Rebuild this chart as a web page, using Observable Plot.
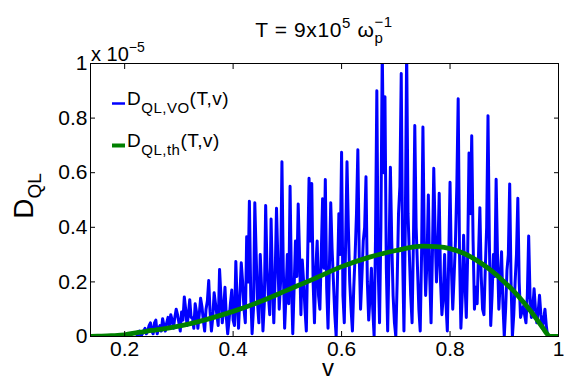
<!DOCTYPE html>
<html><head><meta charset="utf-8">
<script src="https://cdn.jsdelivr.net/npm/d3@7"></script>
<script src="https://cdn.jsdelivr.net/npm/@observablehq/plot@0.6"></script>
<style>body{margin:0;background:#fff} svg{display:block}</style>
</head><body><div id="chart"></div>
<script>
// Velocity grid of the noisy (VO) series: first sample and spacing
const vStart = 0.2225, vStep = 0.0025;
// D_QL,VO(T,v) in units of 1e-5 (one row = 0.05 in v)
const dVO = [
  0,
  0.01,0.02,0.0,0.01,0.02,0.03,0.01,0.02,0.04,0.05,0.02,0.01,0.05,0.06,0.01,0.03,0.04,0.02,0.065,0.04,
  0.02,0.05,0.07,0.04,0.08,0.06,0.03,0.07,0.10,0.08,0.05,0.02,0.09,0.06,0.145,0.10,0.04,0.08,0.135,0.07,
  0.07,0.03,0.12,0.09,0.03,0.08,0.14,0.11,0.06,0.02,0.10,0.13,0.205,0.09,0.02,0.07,0.16,0.12,0.08,0.04,
  0.245,0.15,0.05,0.10,0.18,0.07,0.01,0.06,0.12,0.17,0.06,0.04,0.275,0.12,0.03,0.15,0.27,0.20,0.10,0.05,
  0.365,0.20,0.495,0.15,0.01,0.10,0.49,0.30,0.12,0.05,0.30,0.18,0.02,0.12,0.48,0.25,0.15,0.08,0.43,0.20,
  0.05,0.22,0.47,0.28,0.10,0.20,0.64,0.25,0.03,0.15,0.30,0.12,0.55,0.20,0.01,0.18,0.35,0.22,0.485,0.30,
  0.08,0.28,0.20,0.10,0.02,0.30,0.58,0.35,0.56,0.20,0.05,0.25,0.35,0.15,0.10,0.30,0.505,0.25,0.575,0.18,
  0.03,0.25,0.49,0.32,0.20,0.08,0.0,0.22,0.45,0.30,0.675,0.15,0.05,0.35,0.64,0.40,0.20,0.10,0.02,0.18,
  0.30,0.45,0.684,0.30,0.10,0.22,0.35,0.40,0.585,0.20,0.06,0.15,0.25,0.10,0.0,0.35,0.90,0.25,0.05,0.40,
  1.05,0.60,0.878,0.25,0.02,0.30,0.62,0.35,0.15,0.05,0.0,0.20,0.45,0.55,0.963,0.30,0.02,0.40,1.05,0.45,
  0.30,0.15,0.05,0.35,0.773,0.40,0.25,0.10,0.02,0.30,0.767,0.35,0.15,0.28,0.518,0.22,0.05,0.30,0.616,0.38,
  0.20,0.30,0.525,0.20,0.08,0.15,0.30,0.12,0.02,0.28,0.565,0.25,0.10,0.22,0.35,0.55,0.871,0.30,0.03,0.15,
  0.371,0.20,0.07,0.30,0.672,0.45,0.735,0.35,0.10,0.18,0.12,0.30,0.472,0.22,0.10,0.08,0.249,0.40,0.809,0.35,
  0.04,0.15,0.30,0.22,0.576,0.30,0.10,0.20,0.31,0.12,0.0,0.10,0.243,0.30,0.559,0.20,0.0,0.08,0.20,0.30,
  0.506,0.20,0.07,0.09,0.11,0.08,0.05,0.15,0.368,0.15,0.07,0.10,0.175,0.10,0.05,0.09,0.151,0.08,0.03,0.06,
  0.10,0.04,0.0
];
// D_QL,th(T,v) in units of 1e-5
const vTh = [0.137,0.15,0.175,0.2,0.225,0.25,0.3,0.35,0.4,0.45,0.5,0.55,0.6,0.65,0.7,0.75,0.775,0.8,0.825,0.85,0.875,0.9,0.925,0.95,0.97,0.985,1.0];
const dTh = [0,0.001,0.003,0.006,0.015,0.022,0.038,0.062,0.092,0.128,0.17,0.212,0.256,0.29,0.315,0.331,0.329,0.322,0.305,0.278,0.243,0.2,0.15,0.09,0.035,0,0];
const xTicks = [0.2,0.4,0.6,0.8,1];
const yTicks = [0,0.2,0.4,0.6,0.8,1];

const blue = dVO.map((d,i)=>({v:+(vStart+i*vStep).toFixed(5), d}));
const green = vTh.map((v,i)=>({v, d:dTh[i]}));
const font = "'Liberation Sans', Arial, Helvetica, sans-serif";
const fmt = d => String(d);
const FS = 21;

const svg = Plot.plot({
  width:564, height:379,
  marginLeft:90, marginRight:6, marginTop:63, marginBottom:43,
  style:{fontFamily:font, fontSize:FS+"px", background:"#fff", color:"#000"},
  x:{domain:[0.137,1]},
  y:{domain:[0,1]},
  marks:[
    Plot.line(blue,{x:"v",y:"d",stroke:"#0000ff",strokeWidth:3,strokeLinejoin:"round",strokeLinecap:"round",clip:true}),
    Plot.line(green,{x:"v",y:"d",stroke:"#008000",strokeWidth:4.8,curve:"monotone-x",clip:true}),
    Plot.frame({stroke:"#000",strokeWidth:1}),
    Plot.axisX(xTicks,{anchor:"bottom",tickSize:0,tickPadding:5,tickFormat:fmt,label:null,fontSize:FS}),
    Plot.axisX(xTicks,{anchor:"bottom",tickSize:-5,tickFormat:()=>"",label:null}),
    Plot.axisX(xTicks,{anchor:"top",tickSize:-5,tickFormat:()=>"",label:null}),
    Plot.axisY(yTicks,{anchor:"left",tickSize:0,tickPadding:3,tickFormat:fmt,label:null,fontSize:FS}),
    Plot.axisY(yTicks,{anchor:"left",tickSize:-5,tickFormat:()=>"",label:null}),
    Plot.axisY(yTicks,{anchor:"right",tickSize:-5,tickFormat:()=>"",label:null})
  ]
});
document.getElementById("chart").appendChild(svg);

const s = d3.select(svg);
function rich(x, y, parts, opts={}) {
  const t = s.append("text").attr("x",x).attr("y",y)
    .attr("font-family",font).attr("fill","#000")
    .attr("text-anchor",opts.anchor||"start");
  if (opts.transform) t.attr("transform",opts.transform).attr("x",0).attr("y",0);
  if (opts.ls) t.attr("letter-spacing",opts.ls);
  let prev = null;
  for (const p of parts) {
    const ts = t.append("tspan").attr("font-size",p.size).text(p.t);
    if (p.dy) ts.attr("dy",p.dy);
    if (p.stackBack && prev) ts.attr("dx", -prev.node().getComputedTextLength());
    prev = ts;
  }
  return t;
}
// Title
rich(324, 37, [
  {t:"T = 9x10", size:21},
  {t:"5", size:15, dy:-9},
  {t:" \u03c9", size:21, dy:9},
  {t:"p", size:15, dy:6},
  {t:"\u22121", size:15, dy:-16, stackBack:true}
], {anchor:"middle", ls:"0.6px"});
// exponent label
rich(91, 61, [
  {t:"x 10", size:20},
  {t:"\u22125", size:14, dy:-9}
]);
// y label
rich(0, 0, [
  {t:"D", size:28},
  {t:"QL", size:19, dy:8}
], {anchor:"middle", transform:"translate(33,196) rotate(-90)"});
// x label
rich(328, 376, [{t:"v", size:24}], {anchor:"middle"});
// legend
const legend = [
  {color:"#0000ff", w:2.5, sub:"QL,VO", y:105},
  {color:"#008000", w:4, sub:"QL,th", y:147}
];
for (const L of legend) {
  s.append("line").attr("x1",112).attr("x2",125).attr("y1",L.y-1.5).attr("y2",L.y-1.5)
    .attr("stroke",L.color).attr("stroke-width",L.w);
  rich(127, L.y, [
    {t:"D", size:19},
    {t:L.sub, size:15, dy:8},
    {t:"(T,v)", size:19, dy:-8}
  ], {ls:"0.5px"});
}
</script></body></html>
